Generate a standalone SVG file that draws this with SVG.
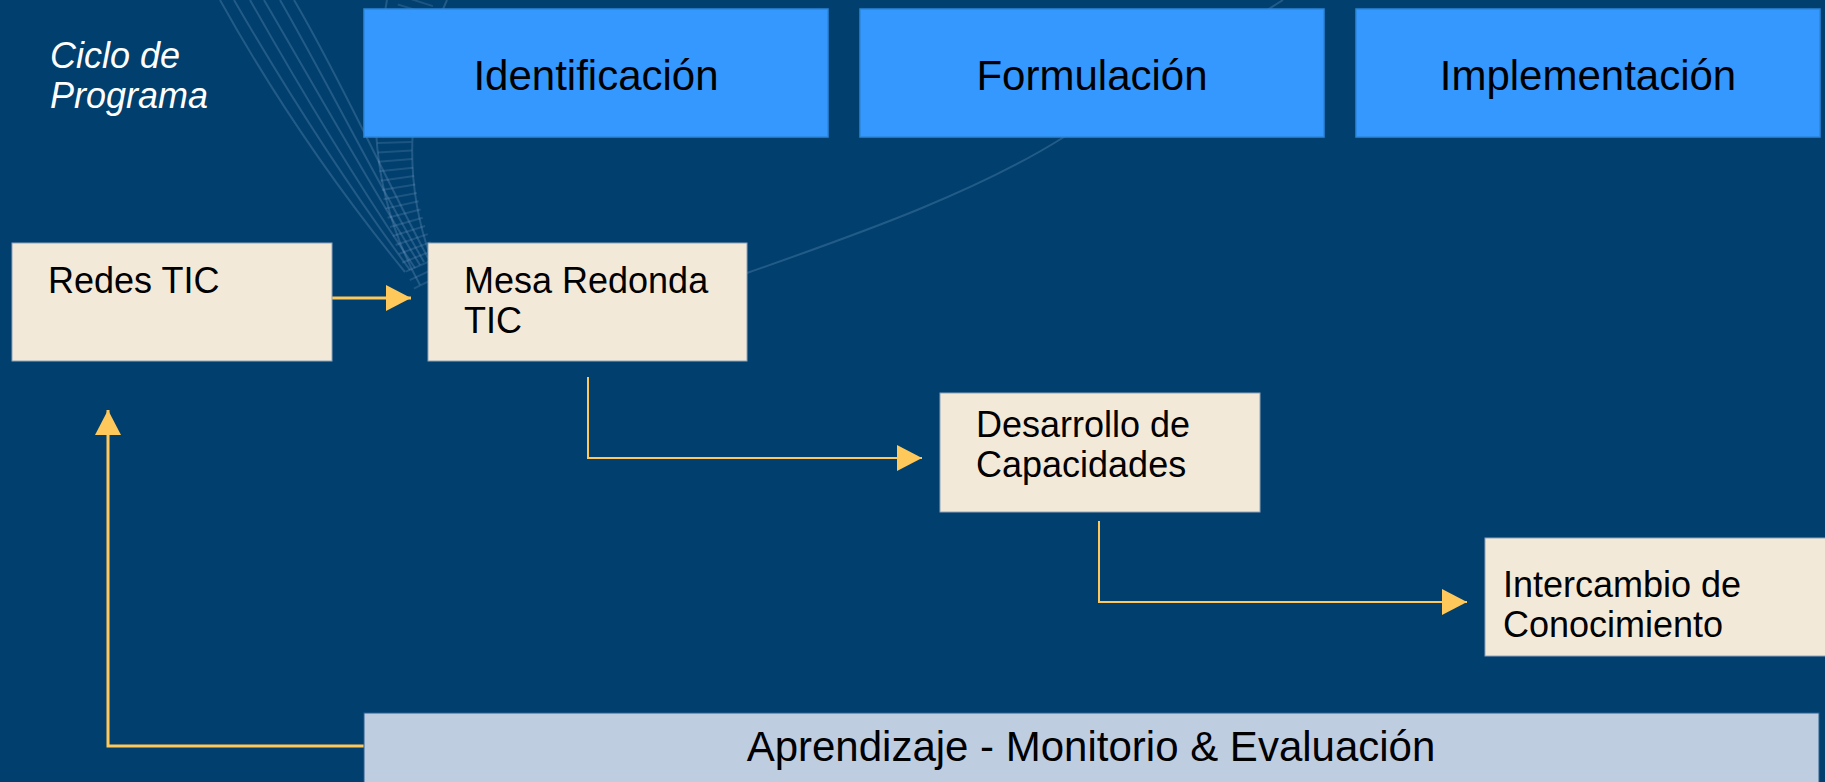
<svg xmlns="http://www.w3.org/2000/svg" width="1825" height="782" viewBox="0 0 1825 782">
<defs>
<style>
.bg{fill:#003F6E}
.phase{fill:#3598FE;stroke:#2C86DA;stroke-width:1.5}
.node{fill:#F3E9D9;stroke:#8FA3B8;stroke-width:1}
.bar{fill:#BFCDE1;stroke:#2C5F8F;stroke-width:1}
.t{font-family:"Liberation Sans",Arial,sans-serif;fill:#000}
.ph{font-size:42px;text-anchor:middle}
.nt{font-size:36px}
.title{font-family:"Liberation Sans",Arial,sans-serif;font-size:36px;font-style:italic;fill:#FFFFFF}
.conn{fill:none;stroke:#FFC85A;stroke-width:2}
.deco{fill:none;stroke:#7FA6CC;stroke-opacity:0.28;stroke-width:2}
.rung{fill:none;stroke:#7FA6CC;stroke-opacity:0.22;stroke-width:34;stroke-dasharray:2 7}
</style>
<marker id="ah" viewBox="0 0 25 26" refX="25" refY="13" markerWidth="25" markerHeight="26" markerUnits="userSpaceOnUse" orient="auto">
<path d="M0,0 L25,13 L0,26 Z" fill="#FFC85A"/>
</marker>
</defs>
<rect class="bg" x="0" y="0" width="1825" height="782"/>
<g id="decoration">
<path class="deco" d="M220,0 C270,90 330,180 405,272"/>
<path class="deco" d="M234,0 C285,88 340,175 410,270"/>
<path class="deco" d="M250,0 C298,85 350,172 415,268"/>
<path class="deco" d="M264,0 C312,82 360,168 420,265"/>
<path class="deco" d="M280,0 C326,80 368,165 424,262"/>
<path class="deco" d="M294,0 C340,78 376,160 428,258"/>
<path class="deco" d="M387,0 C372,80 362,180 420,285"/>
<path class="deco" d="M447,0 C410,80 395,180 440,280"/>
<path class="rung" d="M417,0 C391,80 378,180 430,283"/>
<path class="deco" d="M747,273 C870,230 980,190 1064,137 C1150,82 1220,40 1283,0"/>
</g>
<g id="connectors">
<line class="conn" x1="332" y1="298" x2="411" y2="298" marker-end="url(#ah)" style="stroke-width:3"/>
<polyline class="conn" points="588,377 588,458 922,458" marker-end="url(#ah)"/>
<polyline class="conn" points="1099,521 1099,602 1467,602" marker-end="url(#ah)"/>
<polyline class="conn" points="364,746 108,746 108,410" marker-end="url(#ah)" style="stroke-width:3"/>
</g>
<g id="label-ciclo">
<text class="title" x="50" y="68">Ciclo de</text>
<text class="title" x="50" y="108">Programa</text>
</g>
<g id="phase-identificacion">
<rect class="phase" x="364" y="9" width="464" height="128"/>
<text class="t ph" x="596" y="90">Identificación</text>
</g>
<g id="phase-formulacion">
<rect class="phase" x="860" y="9" width="464" height="128"/>
<text class="t ph" x="1092" y="90">Formulación</text>
</g>
<g id="phase-implementacion">
<rect class="phase" x="1356" y="9" width="464" height="128"/>
<text class="t ph" x="1588" y="90">Implementación</text>
</g>
<g id="node-redes">
<rect class="node" x="12" y="243" width="320" height="118"/>
<text class="t nt" x="48" y="293">Redes TIC</text>
</g>
<g id="node-mesa">
<rect class="node" x="428" y="243" width="319" height="118"/>
<text class="t nt" x="464" y="293">Mesa Redonda</text>
<text class="t nt" x="464" y="333">TIC</text>
</g>
<g id="node-desarrollo">
<rect class="node" x="940" y="393" width="320" height="119"/>
<text class="t nt" x="976" y="437">Desarrollo de</text>
<text class="t nt" x="976" y="477">Capacidades</text>
</g>
<g id="node-intercambio">
<rect class="node" x="1485" y="538" width="345" height="118"/>
<text class="t nt" x="1503" y="597">Intercambio de</text>
<text class="t nt" x="1503" y="637">Conocimiento</text>
</g>
<g id="bar-aprendizaje">
<rect class="bar" x="364" y="713" width="1455" height="75"/>
<text class="t ph" x="1091" y="761">Aprendizaje - Monitorio &amp; Evaluación</text>
</g>
</svg>
